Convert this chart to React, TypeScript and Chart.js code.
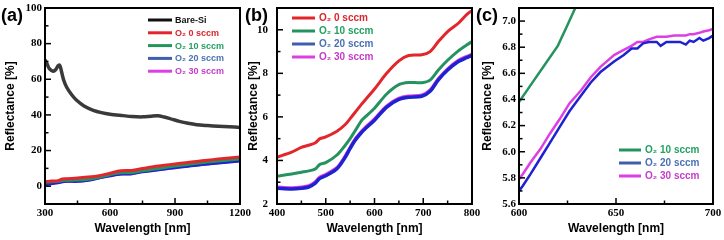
import React, { useEffect, useRef } from "react";
import { Chart, registerables } from "chart.js";

Chart.register(...registerables);

// ---------- Panel (a) data ----------
const waveBare = [300, 310, 320, 338, 350, 360, 366, 372, 385, 400, 425, 446, 480, 523, 560, 600, 660, 700, 750, 790, 820, 850, 880, 920, 960, 1000, 1050, 1100, 1150, 1200];
const bareSi = [71, 68.5, 66, 64.5, 65.5, 67.5, 68, 66.5, 60, 55.5, 51, 48.2, 45, 42.6, 41.3, 40.4, 39.6, 39.1, 38.9, 39.3, 39.5, 38.8, 37.8, 36.4, 35.3, 34.5, 34, 33.6, 33.3, 33];

const waveA = [300, 330, 360, 380, 400, 450, 500, 550, 600, 650, 700, 750, 800, 850, 900, 950, 1000, 1050, 1100, 1150, 1200];
const a0 = [2.6, 2.9, 3.1, 4.0, 4.15, 4.6, 5.1, 5.9, 7.3, 8.6, 8.85, 9.9, 10.9, 11.7, 12.5, 13.2, 13.9, 14.6, 15.2, 15.8, 16.4];
const a10 = [2.2, 2.5, 2.7, 3.2, 3.3, 3.46, 3.9, 5.0, 6.45, 7.5, 7.58, 8.6, 9.46, 10.4, 11.3, 12.0, 12.8, 13.5, 14.1, 14.7, 15.3];
const a20 = [1.0, 1.4, 1.9, 2.5, 2.72, 2.72, 3.38, 4.6, 5.8, 6.8, 6.95, 8.15, 8.82, 9.6, 10.4, 11.1, 11.8, 12.4, 13.0, 13.6, 14.1];
const a30 = [1.1, 1.5, 2.0, 2.6, 2.8, 2.8, 3.45, 4.7, 5.9, 6.88, 7.02, 8.22, 8.9, 9.7, 10.5, 11.2, 11.9, 12.5, 13.1, 13.7, 14.3];

const xTicksA = [300, 600, 900, 1200];
const xMinorA = [450, 750, 1050];
const yTicksA = [0, 20, 40, 60, 80, 100];
const yMinorA = [10, 30, 50, 70, 90];

// ---------- Panel (b) data ----------
const waveB = [400, 430, 450, 465, 478, 488, 500, 523, 540, 550, 560, 574, 581, 600, 625, 650, 670, 697, 714, 731, 750, 772, 789, 800];
const b0 = [4.15, 4.38, 4.6, 4.7, 4.8, 5.0, 5.08, 5.34, 5.65, 5.92, 6.2, 6.6, 6.78, 7.28, 8.0, 8.57, 8.82, 8.85, 9.0, 9.46, 9.92, 10.3, 10.7, 10.88];
const b10 = [3.28, 3.38, 3.46, 3.52, 3.6, 3.82, 3.9, 4.25, 4.7, 5.0, 5.35, 5.85, 6.0, 6.4, 7.05, 7.48, 7.58, 7.57, 7.69, 8.15, 8.6, 9.03, 9.3, 9.46];
const b20 = [2.72, 2.69, 2.72, 2.78, 2.95, 3.18, 3.3, 3.62, 4.15, 4.55, 4.92, 5.3, 5.46, 5.85, 6.45, 6.8, 6.9, 6.95, 7.18, 7.7, 8.15, 8.54, 8.72, 8.82];
const b30 = [2.78, 2.75, 2.78, 2.84, 3.01, 3.24, 3.36, 3.68, 4.21, 4.61, 4.98, 5.36, 5.52, 5.91, 6.51, 6.86, 6.96, 7.01, 7.24, 7.76, 8.21, 8.6, 8.78, 8.88];

const xTicksB = [400, 500, 600, 700, 800];
const xMinorB = [450, 550, 650, 750];
const yTicksB = [2, 4, 6, 8, 10];
const yMinorB = [3, 5, 7, 9, 11];

// ---------- Panel (c) data ----------
const waveC10 = [600, 606, 613, 620, 625, 629, 640];
const c10 = [6.38, 6.51, 6.66, 6.81, 6.97, 7.1, 7.38];
const waveC = [600, 602, 606, 611, 616, 621, 626, 632, 637, 642, 649, 654, 658, 661, 664, 667, 671, 673, 676, 680, 683, 686, 688, 690, 693, 695, 698, 700];
const c20 = [5.70, 5.74, 5.83, 5.95, 6.07, 6.19, 6.31, 6.43, 6.53, 6.61, 6.69, 6.74, 6.79, 6.79, 6.83, 6.84, 6.84, 6.81, 6.84, 6.84, 6.84, 6.82, 6.85, 6.84, 6.87, 6.85, 6.87, 6.89];
const c30 = [5.79, 5.83, 5.92, 6.02, 6.14, 6.25, 6.37, 6.47, 6.57, 6.65, 6.74, 6.78, 6.81, 6.84, 6.84, 6.86, 6.88, 6.88, 6.88, 6.89, 6.89, 6.89, 6.90, 6.90, 6.91, 6.92, 6.93, 6.94];

const xTicksC = [600, 650, 700];
const xMinorC = [625, 675];
const yTicksC = [5.6, 5.8, 6.0, 6.2, 6.4, 6.6, 6.8, 7.0];
const yMinorC = [5.7, 5.9, 6.1, 6.3, 6.5, 6.7, 6.9];

// ---------- Labels / colours ----------
const LBL_BARE = "Bare-Si";
const LBL_0 = "O₂ 0 sccm";
const LBL_10 = "O₂ 10 sccm";
const LBL_20 = "O₂ 20 sccm";
const LBL_30 = "O₂ 30 sccm";

const COL_BARE = "#3a3a3a";
const COL_0 = "#e3262b";
const COL_10 = "#25935f";
const COL_20 = "#1e22d0";
const COL_30 = "#de3fe4";
const TXT_BARE = "#111111";
const TXT_0 = "#d8262c";
const TXT_10 = "#23a062";
const TXT_20 = "#4a70b4";
const TXT_30 = "#c43cc9";
const LEG_20 = "#3f5fae";

const SERIF = "'Liberation Serif', 'Times New Roman', serif";
const SANS = "'Liberation Sans', Arial, sans-serif";

const pts = (xs: number[], ys: number[]) => xs.map((x, i) => ({ x, y: ys[i] }));

const decorPlugin = {
  id: "decor",
  afterDatasetsDraw(chart: any, _args: any, opts: any) {
    const { ctx, chartArea: ca, scales } = chart;
    const xs = scales.x;
    const ys = scales.y;
    ctx.save();
    ctx.strokeStyle = "#000";
    ctx.lineWidth = 1.5;
    const seg = (x1: number, y1: number, x2: number, y2: number) => {
      ctx.beginPath();
      ctx.moveTo(x1, y1);
      ctx.lineTo(x2, y2);
      ctx.stroke();
    };
    (opts.xMajor || []).forEach((v: number) => {
      const p = xs.getPixelForValue(v);
      seg(p, ca.bottom, p, ca.bottom - 6);
    });
    (opts.xMinor || []).forEach((v: number) => {
      const p = xs.getPixelForValue(v);
      seg(p, ca.bottom, p, ca.bottom - 3.5);
    });
    (opts.yMajor || []).forEach((v: number) => {
      const p = ys.getPixelForValue(v);
      seg(ca.left, p, ca.left + 6, p);
    });
    (opts.yMinor || []).forEach((v: number) => {
      const p = ys.getPixelForValue(v);
      if (p > ca.top + 1 && p < ca.bottom - 1) seg(ca.left, p, ca.left + 3.5, p);
    });
    ctx.lineWidth = 2;
    ctx.strokeRect(ca.left, ca.top, ca.right - ca.left, ca.bottom - ca.top);

    const lg = opts.legend;
    if (lg) {
      ctx.font = `bold ${lg.size}px ${SANS}`;
      ctx.textBaseline = "middle";
      ctx.textAlign = "left";
      lg.items.forEach((it: any, i: number) => {
        const y = lg.y0 + i * lg.dy;
        ctx.strokeStyle = it.line;
        ctx.lineWidth = 3;
        seg(lg.x0, y, lg.x1, y);
        ctx.fillStyle = it.text;
        ctx.fillText(it.label, lg.tx, y + 0.5);
      });
    }
    if (opts.panel) {
      ctx.font = `bold 18px ${SANS}`;
      ctx.fillStyle = "#000";
      ctx.textBaseline = "middle";
      ctx.textAlign = "left";
      ctx.fillText(opts.panel.text, opts.panel.x, opts.panel.y);
    }
    ctx.restore();
  },
};

function makeConfig(p: any) {
  return {
    type: "line",
    data: { datasets: p.datasets },
    plugins: [decorPlugin],
    options: {
      animation: false,
      responsive: false,
      devicePixelRatio: 1,
      layout: { padding: p.padding },
      elements: { point: { radius: 0 }, line: { tension: p.tension } },
      plugins: {
        legend: { display: false },
        tooltip: { enabled: false },
        decor: p.decor,
      },
      scales: {
        x: {
          type: "linear",
          min: p.xMin,
          max: p.xMax,
          afterBuildTicks: (s: any) => {
            s.ticks = p.xTicks.map((v: number) => ({ value: v }));
          },
          afterFit: (s: any) => {
            s.height = 36;
            s.paddingLeft = 0;
            s.paddingRight = 0;
          },
          grid: { display: false, drawTicks: false, tickLength: 0 },
          border: { display: false },
          ticks: {
            color: "#000",
            padding: 3,
            maxRotation: 0,
            autoSkip: false,
            font: { family: SERIF, size: 11, weight: "bold" },
            callback: (v: any) => String(v),
          },
          title: {
            display: true,
            text: "Wavelength [nm]",
            color: "#000",
            padding: { top: 4, bottom: 4 },
            font: { family: SANS, size: 12, weight: "bold" },
          },
        },
        y: {
          type: "linear",
          min: p.yMin,
          max: p.yMax,
          afterBuildTicks: (s: any) => {
            s.ticks = p.yTicks.map((v: number) => ({ value: v }));
          },
          afterFit: (s: any) => {
            s.width = p.yWidth;
            s.paddingTop = 0;
            s.paddingBottom = 0;
          },
          grid: { display: false, drawTicks: false, tickLength: 0 },
          border: { display: false },
          ticks: {
            color: "#000",
            padding: p.yTickPad,
            autoSkip: false,
            font: { family: SERIF, size: 11, weight: "bold" },
            callback: p.yFmt,
          },
          title: {
            display: true,
            text: "Reflectance [%]",
            color: "#000",
            padding: { top: p.yTitlePad, bottom: p.yTitlePad },
            font: { family: SANS, size: 12, weight: "bold" },
          },
        },
      },
    },
  };
}

const ds = (label: string, xs: number[], ys: number[], color: string, width: number) => ({
  label,
  data: pts(xs, ys),
  borderColor: color,
  backgroundColor: color,
  borderWidth: width,
  pointRadius: 0,
  fill: false,
});

const panelA = {
  datasets: [
    ds(LBL_BARE, waveBare, bareSi, COL_BARE, 3.5),
    ds(LBL_0, waveA, a0, COL_0, 3),
    ds(LBL_10, waveA, a10, COL_10, 3),
    ds(LBL_20, waveA, a20, COL_20, 3),
    ds(LBL_30, waveA, a30, COL_30, 3),
  ],
  padding: { left: 0, top: 8, right: 484, bottom: 0 },
  tension: 0.3,
  xMin: 300, xMax: 1200, xTicks: xTicksA,
  yMin: -10, yMax: 100, yTicks: yTicksA,
  yWidth: 45, yTickPad: 3, yTitlePad: 3,
  yFmt: (v: any) => String(v),
  decor: {
    xMajor: xTicksA, xMinor: xMinorA, yMajor: yTicksA, yMinor: yMinorA,
    panel: { text: "(a)", x: 1, y: 16 },
    legend: {
      size: 9, x0: 148, x1: 172, tx: 175, y0: 20, dy: 12.8,
      items: [
        { label: LBL_BARE, line: "#111", text: TXT_BARE },
        { label: LBL_0, line: COL_0, text: TXT_0 },
        { label: LBL_10, line: COL_10, text: TXT_10 },
        { label: LBL_20, line: LEG_20, text: TXT_20 },
        { label: LBL_30, line: COL_30, text: TXT_30 },
      ],
    },
  },
};

const panelB = {
  datasets: [
    ds(LBL_0, waveB, b0, COL_0, 3),
    ds(LBL_10, waveB, b10, COL_10, 3),
    ds(LBL_20, waveB, b20, COL_20, 3.5),
    ds(LBL_30, waveB, b30, COL_30, 3),
  ],
  padding: { left: 240, top: 8, right: 252, bottom: 0 },
  tension: 0.3,
  xMin: 400, xMax: 800, xTicks: xTicksB,
  yMin: 2, yMax: 11, yTicks: yTicksB,
  yWidth: 37, yTickPad: 9, yTitlePad: 6,
  yFmt: (v: any) => String(v),
  decor: {
    xMajor: xTicksB, xMinor: xMinorB, yMajor: yTicksB, yMinor: yMinorB,
    panel: { text: "(b)", x: 245, y: 16 },
    legend: {
      size: 10, x0: 292, x1: 315, tx: 319, y0: 18, dy: 13,
      items: [
        { label: LBL_0, line: COL_0, text: TXT_0 },
        { label: LBL_10, line: COL_10, text: TXT_10 },
        { label: LBL_20, line: LEG_20, text: TXT_20 },
        { label: LBL_30, line: COL_30, text: TXT_30 },
      ],
    },
  },
};

const panelC = {
  datasets: [
    ds(LBL_10, waveC10, c10, COL_10, 2.5),
    ds(LBL_20, waveC, c20, COL_20, 2.5),
    ds(LBL_30, waveC, c30, COL_30, 2.5),
  ],
  padding: { left: 480, top: 8, right: 11, bottom: 0 },
  tension: 0,
  xMin: 600, xMax: 700, xTicks: xTicksC,
  yMin: 5.6, yMax: 7.1, yTicks: yTicksC,
  yWidth: 39, yTickPad: 3, yTitlePad: 0,
  yFmt: (v: any) => Number(v).toFixed(1),
  decor: {
    xMajor: xTicksC, xMinor: xMinorC, yMajor: yTicksC, yMinor: yMinorC,
    panel: { text: "(c)", x: 476, y: 16 },
    legend: {
      size: 10, x0: 619, x1: 641, tx: 645, y0: 150, dy: 13,
      items: [
        { label: LBL_10, line: COL_10, text: TXT_10 },
        { label: LBL_20, line: LEG_20, text: TXT_20 },
        { label: LBL_30, line: COL_30, text: TXT_30 },
      ],
    },
  },
};

function Panel({ spec }: { spec: any }) {
  const ref = useRef<HTMLCanvasElement | null>(null);
  useEffect(() => {
    if (!ref.current) return;
    const chart = new Chart(ref.current, makeConfig(spec) as any);
    return () => chart.destroy();
  }, [spec]);
  return (
    <canvas
      ref={ref}
      width={724}
      height={240}
      style={{ position: "absolute", left: 0, top: 0, width: 724, height: 240 }}
    />
  );
}

export default function App() {
  return (
    <div style={{ position: "absolute", left: 0, top: 0, width: 724, height: 240, background: "#fff" }}>
      <Panel spec={panelA} />
      <Panel spec={panelB} />
      <Panel spec={panelC} />
    </div>
  );
}
